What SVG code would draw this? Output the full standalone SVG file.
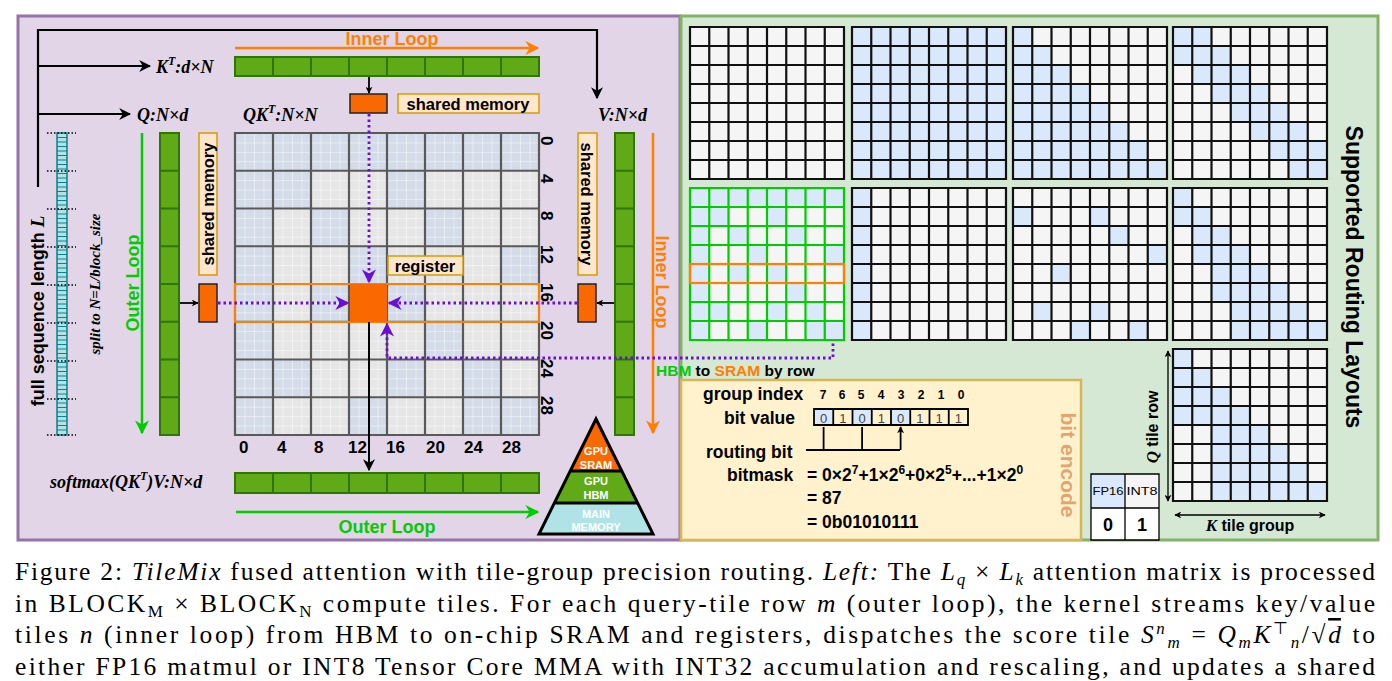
<svg xmlns="http://www.w3.org/2000/svg" xmlns:xlink="http://www.w3.org/1999/xlink" width="1392" height="681" viewBox="0 0 1392 681">
<style>
.s{font-family:"Liberation Sans",Arial,sans-serif;font-weight:bold}
.m{font-family:"Liberation Serif","Times New Roman",serif;font-weight:bold;font-style:italic}
.c{font-family:"Liberation Serif","Times New Roman",serif;font-size:25.5px}
.i{font-style:italic}
.gr{fill:#60a917;stroke:#2d7600;stroke-width:2}
.lbl{fill:#ffe6cc;stroke:#d79b00;stroke-width:1.5}
.ob{fill:#fa6800;stroke:#222;stroke-width:1.5}
.pd{fill:none;stroke:#6a0dd6;stroke-width:2.8;stroke-dasharray:2.5 3}
.gl{fill:none;stroke:#111;stroke-width:2.2}
</style>
<defs>
<marker id="ak" viewBox="0 0 10 10" refX="9" refY="5" markerWidth="7" markerHeight="7" orient="auto-start-reverse" markerUnits="userSpaceOnUse"><path d="M0 0L10 5L0 10L3 5Z" fill="#000"/></marker>
<marker id="ak2" viewBox="0 0 10 10" refX="9" refY="5" markerWidth="12" markerHeight="12" orient="auto-start-reverse" markerUnits="userSpaceOnUse"><path d="M0 0L10 5L0 10L3 5Z" fill="#000"/></marker>
<marker id="ao" viewBox="0 0 10 10" refX="9" refY="5" markerWidth="14" markerHeight="14" orient="auto" markerUnits="userSpaceOnUse"><path d="M0 0L10 5L0 10L3 5Z" fill="#ff8000"/></marker>
<marker id="ag" viewBox="0 0 10 10" refX="9" refY="5" markerWidth="14" markerHeight="14" orient="auto" markerUnits="userSpaceOnUse"><path d="M0 0L10 5L0 10L3 5Z" fill="#00cc00"/></marker>
<marker id="ap" viewBox="0 0 10 10" refX="9" refY="5" markerWidth="14" markerHeight="14" orient="auto" markerUnits="userSpaceOnUse"><path d="M0 0L10 5L0 10L3 5Z" fill="#6a0dd6"/></marker>
<pattern id="fine" x="235" y="133" width="9.5" height="9.4375" patternUnits="userSpaceOnUse"><path d="M0 0H9.5M0 0V9.44" stroke="#fff" stroke-width="0.9" fill="none"/></pattern>
<path id="glines" d="M0 0H154V152H0ZM19.25 0V152M38.5 0V152M57.75 0V152M77 0V152M96.25 0V152M115.5 0V152M134.75 0V152M0 19H154M0 38H154M0 57H154M0 76H154M0 95H154M0 114H154M0 133H154"/>
<g id="pA"><rect x="0" y="0" width="8" height="1"/><rect x="0" y="1" width="2" height="1"/><rect x="4" y="1" width="1" height="1"/><rect x="0" y="2" width="1" height="6"/><rect x="2" y="2" width="1" height="1"/><rect x="5" y="2" width="1" height="1"/><rect x="3" y="3" width="1" height="1"/><rect x="7" y="3" width="1" height="1"/><rect x="2" y="4" width="1" height="1"/><rect x="4" y="4" width="1" height="1"/><rect x="5" y="5" width="1" height="1"/><rect x="1" y="6" width="1" height="1"/><rect x="4" y="6" width="1" height="1"/><rect x="6" y="6" width="1" height="1"/><rect x="3" y="7" width="1" height="1"/><rect x="6" y="7" width="2" height="1"/></g>
</defs>
<rect width="1392" height="681" fill="#fff"/>

<g id="left-panel">
<rect x="18" y="16" width="662" height="524" fill="#e1d5e7" stroke="#9673a6" stroke-width="3"/>
</g>
<g id="right-panel">
<rect x="681" y="16" width="697" height="524" fill="#d5e8d4" stroke="#82b366" stroke-width="3"/>
</g>

<g id="seq-strip">
<rect x="57" y="133" width="10" height="302" fill="#b0e3e6" stroke="#0e8088" stroke-width="1.5"/>
<path d="M57 137.5H67M57 142H67M57 146.5H67M57 151H67M57 155.5H67M57 160H67M57 164.5H67M57 169H67M57 173.5H67M57 178H67M57 182.5H67M57 187H67M57 191.5H67M57 196H67M57 200.5H67M57 205H67M57 209.5H67M57 214H67M57 218.5H67M57 223H67M57 227.5H67M57 232H67M57 236.5H67M57 241H67M57 245.5H67M57 250H67M57 254.5H67M57 259H67M57 263.5H67M57 268H67M57 272.5H67M57 277H67M57 281.5H67M57 286H67M57 290.5H67M57 295H67M57 299.5H67M57 304H67M57 308.5H67M57 313H67M57 317.5H67M57 322H67M57 326.5H67M57 331H67M57 335.5H67M57 340H67M57 344.5H67M57 349H67M57 353.5H67M57 358H67M57 362.5H67M57 367H67M57 371.5H67M57 376H67M57 380.5H67M57 385H67M57 389.5H67M57 394H67M57 398.5H67M57 403H67M57 407.5H67M57 412H67M57 416.5H67M57 421H67M57 425.5H67M57 430H67" stroke="#0e8088" stroke-width="1"/>
<path d="M47 133H76M47 171H76M47 209H76M47 247H76M47 285H76M47 323H76M47 361H76M47 399H76M47 435H76" stroke="#000" stroke-width="1.5" stroke-dasharray="1.5 2"/>
<text class="s" font-size="18" transform="translate(44,311) rotate(-90)" text-anchor="middle">full sequence length <tspan class="m" font-size="19">L</tspan></text>
<text class="m" font-size="15" transform="translate(100,284) rotate(-90)" text-anchor="middle">split to N=L/block_size</text>
</g>

<g id="connectors">
<path d="M38 187V30H597V98" fill="none" stroke="#000" stroke-width="2.2" marker-end="url(#ak2)"/>
<path d="M38 66H150" stroke="#000" stroke-width="2.2" marker-end="url(#ak2)"/>
<path d="M38 114H130" stroke="#000" stroke-width="2.2" marker-end="url(#ak2)"/>
<path d="M235 48H538" stroke="#ff8000" stroke-width="2.5" marker-end="url(#ao)"/>
<path d="M142 133V433" stroke="#00cc00" stroke-width="2.5" marker-end="url(#ag)"/>
<path d="M653 133V433" stroke="#ff8000" stroke-width="2.5" marker-end="url(#ao)"/>
<path d="M236 512H538" stroke="#00cc00" stroke-width="2.5" marker-end="url(#ag)"/>
<path d="M369 76V93" stroke="#000" stroke-width="1.8" marker-end="url(#ak)"/>
<path d="M179 303H198" stroke="#000" stroke-width="1.8" marker-end="url(#ak)"/>
<path d="M615 303H597" stroke="#000" stroke-width="1.8" marker-end="url(#ak)"/>
</g>

<g id="labels">
<text class="m" font-size="18" x="156" y="73">K<tspan font-size="12" dy="-8">T</tspan><tspan dy="8">:d×N</tspan></text>
<text class="m" font-size="18" x="137" y="121">Q:N×d</text>
<text class="m" font-size="18" x="243" y="121">QK<tspan font-size="12" dy="-8">T</tspan><tspan dy="8">:N×N</tspan></text>
<text class="m" font-size="18" x="598" y="121">V:N×d</text>
<text class="s" font-size="18" x="392" y="45" fill="#ff8000" text-anchor="middle">Inner Loop</text>
<text class="s" font-size="18" x="387" y="533" fill="#00cc00" text-anchor="middle">Outer Loop</text>
<text class="s" font-size="18" transform="translate(139,283) rotate(-90)" fill="#00cc00" text-anchor="middle">Outer Loop</text>
<text class="s" font-size="18" transform="translate(656,282) rotate(90)" fill="#ff8000" text-anchor="middle">Inner Loop</text>
<text class="m" font-size="18" x="50" y="488">softmax(QK<tspan font-size="12" dy="-8">T</tspan><tspan dy="8">)V:N×d</tspan></text>
</g>

<g id="K-bar"><rect class="gr" x="235" y="57" width="304" height="19"/><path d="M273 57V76M311 57V76M349 57V76M387 57V76M425 57V76M463 57V76M501 57V76" stroke="#2d7600" stroke-width="2"/></g>
<g id="O-bar"><rect class="gr" x="235" y="473" width="304" height="20"/><path d="M273 473V493M311 473V493M349 473V493M387 473V493M425 473V493M463 473V493M501 473V493" stroke="#2d7600" stroke-width="2"/></g>
<g id="Q-col"><rect class="gr" x="160" y="133" width="19" height="302"/><path d="M160 170.75H179M160 208.5H179M160 246.25H179M160 284H179M160 321.75H179M160 359.5H179M160 397.25H179" stroke="#2d7600" stroke-width="2"/></g>
<g id="V-col"><rect class="gr" x="615" y="133" width="19" height="302"/><path d="M615 170.75H634M615 208.5H634M615 246.25H634M615 284H634M615 321.75H634M615 359.5H634M615 397.25H634" stroke="#2d7600" stroke-width="2"/></g>

<g id="matrix">
<rect x="235" y="133" width="304" height="302" fill="#e6e6e6"/>
<use xlink:href="#pA" href="#pA" fill="#d3dce8" transform="translate(235,133) scale(38,37.75)"/>
<rect x="235" y="133" width="304" height="302" fill="url(#fine)"/>
<path d="M235 133H539V435H235ZM273 133V435M311 133V435M349 133V435M387 133V435M425 133V435M463 133V435M501 133V435M235 170.75H539M235 208.5H539M235 246.25H539M235 284H539M235 321.75H539M235 359.5H539M235 397.25H539" fill="none" stroke="#595959" stroke-width="2.2"/>
<g class="s" font-size="17">
<text x="239" y="453">0</text><text x="277" y="453">4</text><text x="314" y="453">8</text><text x="348" y="453">12</text><text x="386" y="453">16</text><text x="426" y="453">20</text><text x="464" y="453">24</text><text x="502" y="453">28</text>
<text transform="translate(541,136) rotate(90)">0</text><text transform="translate(541,174) rotate(90)">4</text><text transform="translate(541,211) rotate(90)">8</text><text transform="translate(541,245) rotate(90)">12</text><text transform="translate(541,283) rotate(90)">16</text><text transform="translate(541,321) rotate(90)">20</text><text transform="translate(541,359) rotate(90)">24</text><text transform="translate(541,396) rotate(90)">28</text>
</g>
<rect x="235" y="284" width="304" height="38" fill="none" stroke="#ff8000" stroke-width="2"/>
</g>

<g id="shared-mem-top"><rect class="ob" x="350" y="94" width="37" height="19"/><rect class="lbl" x="398" y="94" width="141" height="19"/><text class="s" font-size="16.5" x="468" y="110" text-anchor="middle">shared memory</text></g>
<g id="shared-mem-left"><rect class="lbl" x="199" y="133" width="18" height="142"/><text class="s" font-size="16.5" transform="translate(214,204) rotate(-90)" text-anchor="middle">shared memory</text><rect class="ob" x="199" y="284" width="18" height="38"/></g>
<g id="shared-mem-right"><rect class="lbl" x="578" y="133" width="19" height="142"/><text class="s" font-size="16.5" transform="translate(581,204) rotate(90)" text-anchor="middle">shared memory</text><rect class="ob" x="578" y="284" width="18" height="38"/></g>
<g id="register"><rect x="350" y="284" width="37" height="38" fill="#fa6800"/><rect class="lbl" x="388" y="256" width="75" height="19"/><text class="s" font-size="16.5" x="425" y="272" text-anchor="middle">register</text></g>
<path d="M369 322V470" stroke="#000" stroke-width="2" marker-end="url(#ak2)"/>

<g id="purple-paths">
<path class="pd" d="M369 114V282" marker-end="url(#ap)"/>
<path class="pd" d="M218 303H348" marker-end="url(#ap)"/>
<path class="pd" d="M577 303H389" marker-end="url(#ap)"/>
<path class="pd" d="M833 283V358H387V324" marker-end="url(#ap)"/>
</g>

<g id="pyramid">
<path d="M596 419L570.2 471H621.8Z" fill="#fa6800"/>
<path d="M570.2 471L554.4 503H637.6L621.8 471Z" fill="#60a917"/>
<path d="M554.4 503L539 534H653L637.6 503Z" fill="#b0e3e6"/>
<path d="M596 419L539 534H653Z M570.2 471H621.8M554.4 503H637.6" fill="none" stroke="#000" stroke-width="3"/>
<g class="s" font-size="11" fill="#fff" text-anchor="middle"><text x="596" y="455">GPU</text><text x="596" y="469">SRAM</text><text x="596" y="485">GPU</text><text x="596" y="499">HBM</text><text x="596" y="518">MAIN</text><text x="596" y="531">MEMORY</text></g>
</g>

<g id="layouts">
<g fill="#f5f5f5"><rect x="690" y="27" width="154" height="152"/><rect x="852" y="27" width="154" height="152"/><rect x="1013" y="27" width="154" height="152"/><rect x="1173" y="27" width="154" height="152"/><rect x="690" y="188" width="154" height="152"/><rect x="852" y="188" width="154" height="152"/><rect x="1013" y="188" width="154" height="152"/><rect x="1173" y="188" width="154" height="152"/><rect x="1173" y="349" width="154" height="152"/></g>
<g fill="#dae8fc">
<rect x="852" y="27" width="154" height="152"/>
<g transform="translate(1013,27) scale(19.25,19)"><rect x="0" y="0" width="1" height="8"/><rect x="1" y="1" width="1" height="7"/><rect x="2" y="2" width="1" height="6"/><rect x="3" y="3" width="1" height="5"/><rect x="4" y="4" width="1" height="4"/><rect x="5" y="5" width="1" height="3"/><rect x="6" y="6" width="1" height="2"/><rect x="7" y="7" width="1" height="1"/></g>
<g transform="translate(1173,27) scale(19.25,19)"><rect x="0" y="0" width="2" height="1"/><rect x="0" y="1" width="3" height="1"/><rect x="1" y="2" width="3" height="1"/><rect x="2" y="3" width="3" height="1"/><rect x="3" y="4" width="3" height="1"/><rect x="4" y="5" width="3" height="1"/><rect x="5" y="6" width="3" height="1"/><rect x="6" y="7" width="2" height="1"/></g>
<use xlink:href="#pA" href="#pA" transform="translate(690,188) scale(19.25,19)"/>
<rect x="852" y="188" width="19.25" height="152"/>
<g transform="translate(1013,188) scale(19.25,19)"><rect x="0" y="1" width="1" height="1"/><rect x="4" y="1" width="1" height="1"/><rect x="5" y="2" width="1" height="1"/><rect x="7" y="3" width="1" height="1"/><rect x="2" y="4" width="1" height="1"/><rect x="1" y="6" width="1" height="1"/><rect x="4" y="6" width="1" height="1"/><rect x="3" y="7" width="1" height="1"/><rect x="6" y="7" width="1" height="1"/></g>
<g transform="translate(1173,188) scale(19.25,19)"><rect x="0" y="0" width="1" height="1"/><rect x="0" y="1" width="2" height="1"/><rect x="1" y="2" width="2" height="1"/><rect x="1" y="3" width="3" height="1"/><rect x="2" y="4" width="3" height="1"/><rect x="2" y="5" width="4" height="1"/><rect x="3" y="6" width="4" height="1"/><rect x="3" y="7" width="5" height="1"/></g>
<g transform="translate(1173,349) scale(19.25,19)"><rect x="0" y="0" width="1" height="1"/><rect x="0" y="1" width="2" height="1"/><rect x="0" y="2" width="3" height="1"/><rect x="0" y="3" width="4" height="1"/><rect x="2" y="4" width="3" height="1"/><rect x="2" y="5" width="4" height="1"/><rect x="2" y="6" width="5" height="1"/><rect x="2" y="7" width="6" height="1"/></g>
</g>
<g class="gl">
<use xlink:href="#glines" href="#glines" x="690" y="27"/>
<use xlink:href="#glines" href="#glines" x="852" y="27"/>
<use xlink:href="#glines" href="#glines" x="1013" y="27"/>
<use xlink:href="#glines" href="#glines" x="1173" y="27"/>
<use xlink:href="#glines" href="#glines" x="690" y="188" style="stroke:#00cc00"/>
<use xlink:href="#glines" href="#glines" x="852" y="188"/>
<use xlink:href="#glines" href="#glines" x="1013" y="188"/>
<use xlink:href="#glines" href="#glines" x="1173" y="188"/>
<use xlink:href="#glines" href="#glines" x="1173" y="349"/>
</g>
<rect x="690" y="264" width="154" height="19" fill="none" stroke="#ff8000" stroke-width="2.2"/>
<text class="s" font-size="23" transform="translate(1346,277) rotate(90)" text-anchor="middle">Supported Routing Layouts</text>
<text class="s" font-size="15.5" x="656" y="376"><tspan fill="#00cc00">HBM</tspan> to <tspan fill="#ff8000">SRAM</tspan> by row</text>
</g>

<g id="axes">
<path d="M1168 351V501" stroke="#000" stroke-width="1.3" marker-start="url(#ak)" marker-end="url(#ak)"/>
<path d="M1175 515H1325" stroke="#000" stroke-width="1.3" marker-start="url(#ak)" marker-end="url(#ak)"/>
<text class="s" font-size="16" transform="translate(1158,427) rotate(-90)" text-anchor="middle"><tspan class="m" font-size="17">Q</tspan> tile row</text>
<text class="s" font-size="16" x="1250" y="531" text-anchor="middle"><tspan class="m" font-size="17">K</tspan> tile group</text>
</g>

<g id="legend">
<rect x="1091" y="474" width="34" height="34" fill="#dae8fc"/><rect x="1125" y="474" width="34" height="34" fill="#f5f5f5"/><rect x="1091" y="508" width="68" height="32" fill="#fff"/>
<path d="M1091 474H1159V540H1091ZM1125 474V540M1091 508H1159" fill="none" stroke="#000" stroke-width="1.3"/>
<text x="1108" y="495" font-family="'Liberation Sans Narrow','Liberation Sans',sans-serif" font-size="11" text-anchor="middle" textLength="31" lengthAdjust="spacingAndGlyphs">FP16</text>
<text x="1142" y="495" font-family="'Liberation Sans Narrow','Liberation Sans',sans-serif" font-size="11" text-anchor="middle" textLength="31" lengthAdjust="spacingAndGlyphs">INT8</text>
<text class="s" font-size="18" x="1108" y="531" text-anchor="middle" font-weight="normal">0</text>
<text class="s" font-size="18" x="1142" y="531" text-anchor="middle" font-weight="normal">1</text>
</g>

<g id="bit-encode">
<rect x="681" y="380" width="400" height="160" fill="#fff2cc" stroke="#d6b656" stroke-width="2.5"/>
<text class="s" font-size="17.5" x="703" y="400">group index</text>
<g class="s" font-size="12" text-anchor="middle"><text x="823" y="399">7</text><text x="842" y="399">6</text><text x="861" y="399">5</text><text x="881" y="399">4</text><text x="901" y="399">3</text><text x="921" y="399">2</text><text x="941" y="399">1</text><text x="961" y="399">0</text></g>
<text class="s" font-size="17.5" x="724" y="424">bit value</text>
<rect x="814" y="409" width="19.25" height="16" fill="#dae8fc"/><rect x="852.5" y="409" width="19.25" height="16" fill="#dae8fc"/><rect x="891" y="409" width="19.25" height="16" fill="#dae8fc"/>
<path d="M814 409H968V425H814ZM833.25 409V425M852.5 409V425M871.75 409V425M891 409V425M910.25 409V425M929.5 409V425M948.75 409V425" fill="none" stroke="#000" stroke-width="1.8"/>
<g font-family="'Liberation Sans',sans-serif" font-size="13" fill="#444" text-anchor="middle"><text x="823.6" y="423">0</text><text x="842.9" y="423">1</text><text x="862.1" y="423">0</text><text x="881.4" y="423">1</text><text x="900.6" y="423">0</text><text x="919.9" y="423">1</text><text x="939.1" y="423">1</text><text x="958.4" y="423">1</text></g>
<path d="M806 450H900" stroke="#000" stroke-width="1.8"/>
<path d="M823.6 450V427M862.1 450V427M900.6 450V427" stroke="#000" stroke-width="1.8" marker-end="url(#ak)"/>
<text class="s" font-size="17.5" x="706" y="458">routing bit</text>
<text class="s" font-size="17.5" x="727" y="481">bitmask</text>
<text class="s" font-size="17.5" x="807" y="481">= 0×2<tspan font-size="12" dy="-7">7</tspan><tspan dy="7">+1×2</tspan><tspan font-size="12" dy="-7">6</tspan><tspan dy="7">+0×2</tspan><tspan font-size="12" dy="-7">5</tspan><tspan dy="7">+...+1×2</tspan><tspan font-size="12" dy="-7">0</tspan></text>
<text class="s" font-size="17.5" x="807" y="504">= 87</text>
<text class="s" font-size="17.5" x="807" y="528">= 0b01010111</text>
<text class="s" font-size="21" fill="#e3a46f" transform="translate(1061,465) rotate(90)" text-anchor="middle">bit encode</text>
</g>

<g id="caption" class="c">
<text x="15" y="580" textLength="1360" lengthAdjust="spacing">Figure 2: <tspan class="i">TileMix</tspan> fused attention with tile-group precision routing. <tspan class="i">Left:</tspan> The <tspan class="i">L</tspan><tspan class="i" font-size="17" dy="5">q</tspan><tspan dy="-5"> × </tspan><tspan class="i">L</tspan><tspan class="i" font-size="17" dy="5">k</tspan><tspan dy="-5"> attention matrix is processed</tspan></text>
<text x="15" y="612" textLength="1360" lengthAdjust="spacing">in BLOCK<tspan font-size="17" dy="5">M</tspan><tspan dy="-5"> × BLOCK</tspan><tspan font-size="17" dy="5">N</tspan><tspan dy="-5"> compute tiles. For each query-tile row </tspan><tspan class="i">m</tspan> (outer loop), the kernel streams key/value</text>
<text x="15" y="643" textLength="1360" lengthAdjust="spacing">tiles <tspan class="i">n</tspan> (inner loop) from HBM to on-chip SRAM and registers, dispatches the score tile <tspan class="i">S</tspan><tspan class="i" font-size="17" dy="-9">n</tspan><tspan class="i" font-size="17" dy="14">m</tspan><tspan dy="-5"> = </tspan><tspan class="i">Q</tspan><tspan class="i" font-size="17" dy="5">m</tspan><tspan class="i" dy="-5">K</tspan><tspan font-size="17" dy="-9">⊤</tspan><tspan class="i" font-size="17" dy="14">n</tspan><tspan dy="-5">/√</tspan><tspan class="i" text-decoration="overline">d</tspan> to</text>
<text x="15" y="675" textLength="1360" lengthAdjust="spacing">either FP16 matmul or INT8 Tensor Core MMA with INT32 accumulation and rescaling, and updates a shared</text>
</g>
</svg>
